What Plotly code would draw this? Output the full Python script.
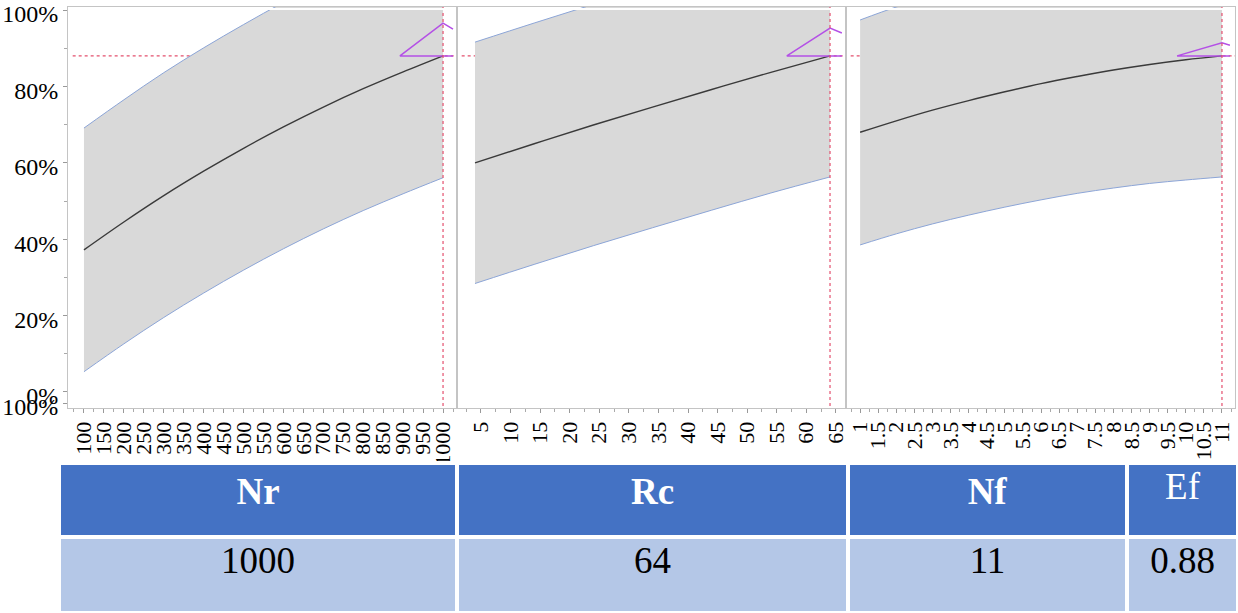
import plotly.graph_objects as go

# ---------------- data ----------------
nr_vals = [100, 200, 300, 400, 500, 600, 700, 800, 900, 1000]
nr_mid = [0.372, 0.445, 0.514, 0.578, 0.638, 0.694, 0.746, 0.794, 0.838, 0.880]
nr_upper = [0.691, 0.765, 0.836, 0.901, 0.962, 1.020, 1.073, 1.121, 1.165, 1.204]
nr_lower = [0.053, 0.126, 0.195, 0.259, 0.319, 0.375, 0.427, 0.475, 0.519, 0.561]

rc_vals = [4, 14, 24, 34, 44, 54, 64]
rc_mid = [0.600, 0.650, 0.699, 0.746, 0.792, 0.837, 0.880]
rc_upper = [0.916, 0.966, 1.015, 1.062, 1.108, 1.153, 1.196]
rc_lower = [0.284, 0.334, 0.383, 0.430, 0.476, 0.521, 0.563]

nf_vals = [1, 2, 3, 4, 5, 6, 7, 8, 9, 10, 11]
nf_mid = [0.680, 0.710, 0.738, 0.763, 0.786, 0.8075, 0.826, 0.843, 0.8576, 0.870, 0.880]
nf_upper = [0.974, 1.008, 1.036, 1.061, 1.084, 1.105, 1.124, 1.141, 1.156, 1.168, 1.178]
nf_lower = [0.385, 0.414, 0.440, 0.463, 0.484, 0.503, 0.520, 0.534, 0.546, 0.555, 0.563]

factor_names = ["Nr", "Rc", "Nf"]
current_vals = [1000, 64, 11]
ef_current = 0.88

# sensitivity indicator (purple) per panel
sens_left = [892, 56.7, 9.76]
sens_right = [1025, 66.0, 11.22]
sens_peak = [0.966, 0.953, 0.914]
sens_right_y = [0.950, 0.940, 0.908]

nr_ticks = [100, 150, 200, 250, 300, 350, 400, 450, 500, 550, 600, 650, 700, 750, 800, 850, 900, 950, 1000]
rc_ticks = [5, 10, 15, 20, 25, 30, 35, 40, 45, 50, 55, 60, 65]
nf_ticks = [1, 1.5, 2, 2.5, 3, 3.5, 4, 4.5, 5, 5.5, 6, 6.5, 7, 7.5, 8, 8.5, 9, 9.5, 10, 10.5, 11]
minor_steps = [25, 2.5, 0.25]

y_tick_vals = [-0.029, 0, 0.2, 0.4, 0.6, 0.8, 1.0]
y_tick_text = ["100%", "0%", "20%", "40%", "60%", "80%", "100%"]

table_headers = ["<b>Nr</b>", "<b>Rc</b>", "<b>Nf</b>", "Ef"]
table_values = ["1000", "64", "11", "0.88"]

# ---------------- styling ----------------
W, H = 1238, 613
FONT = "Liberation Serif"
GREY = "#d9d9d9"
BAND = "rgb(140,165,215)"
MID = "#3a3a3a"
RED = "rgb(228,80,110)"
PURPLE = "#b450e6"
AXC = "#c4c4c4"

x_ranges = [[60, 1035], [0.96, 66.7], [0.61, 11.36]]
x_domains = [[68 / W, 457 / W], [457 / W, 846 / W], [846 / W, 1235 / W]]
y_domain = [1 - 408 / H, 1 - 7 / H]
y_range = [-0.042, 1.008]

panels = [
    (nr_vals, nr_mid, nr_upper, nr_lower, nr_ticks),
    (rc_vals, rc_mid, rc_upper, rc_lower, rc_ticks),
    (nf_vals, nf_mid, nf_upper, nf_lower, nf_ticks),
]

fig = go.Figure()
shapes = []
layout = {}

for i, (xv, mid, up, lo, ticks) in enumerate(panels):
    sfx = "" if i == 0 else str(i + 1)
    xa, ya = "x" + sfx, "y" + sfx
    fig.add_trace(go.Scatter(x=xv, y=lo, mode="lines", xaxis=xa, yaxis=ya,
                             line=dict(color=BAND, width=1, shape="spline"),
                             hoverinfo="skip", showlegend=False))
    fig.add_trace(go.Scatter(x=xv, y=up, mode="lines", xaxis=xa, yaxis=ya,
                             fill="tonexty", fillcolor=GREY,
                             line=dict(color=BAND, width=1, shape="spline"),
                             hoverinfo="skip", showlegend=False))
    fig.add_trace(go.Scatter(x=xv, y=mid, mode="lines", xaxis=xa, yaxis=ya,
                             line=dict(color=MID, width=1.4, shape="spline"),
                             showlegend=False, name=factor_names[i]))
    # sensitivity indicator
    fig.add_trace(go.Scatter(
        x=[sens_right[i], sens_left[i], current_vals[i], sens_right[i]],
        y=[ef_current, ef_current, sens_peak[i], sens_right_y[i]],
        mode="lines", xaxis=xa, yaxis=ya,
        line=dict(color=PURPLE, width=1.5), hoverinfo="skip", showlegend=False))

    # red reference lines
    shapes.append(dict(type="line", xref=xa, yref=ya + " domain", x0=current_vals[i], x1=current_vals[i],
                       y0=0.005, y1=1, line=dict(color=RED, width=1.2, dash="dot"), layer="above"))
    shapes.append(dict(type="line", xref=xa + " domain", yref=ya, x0=0.012, x1=1,
                       y0=ef_current, y1=ef_current, line=dict(color=RED, width=1.2, dash="dot"),
                       layer="below"))

    layout["xaxis" + sfx] = dict(
        domain=x_domains[i], range=x_ranges[i], anchor=ya, automargin=False,
        tickmode="array", tickvals=ticks, ticktext=[str(t) for t in ticks],
        tickangle=-90, ticks="outside", ticklen=4, tickcolor="#999",
        ticklabeloverflow="allow",
        showline=True, linecolor=AXC, mirror=True, showgrid=False, zeroline=False,
        tickfont=dict(family=FONT, size=22, color="black"),
        minor=dict(tickmode="linear", tick0=0, dtick=minor_steps[i], ticks="outside",
                   ticklen=3, tickcolor="#aaa"),
    )
    ydict = dict(domain=y_domain, range=y_range, anchor=xa, automargin=False,
                 showline=True, linecolor=AXC, mirror=True, showgrid=False, zeroline=False)
    if i == 0:
        ydict.update(tickmode="array", tickvals=y_tick_vals, ticktext=y_tick_text,
                     ticks="outside", ticklen=4, tickcolor="#999",
                     ticklabeloverflow="allow", ticklabelshift=4,
                     tickfont=dict(family=FONT, size=24, color="black"),
                     minor=dict(tickmode="linear", tick0=0, dtick=0.1, ticks="outside",
                                ticklen=3, tickcolor="#aaa"))
    else:
        ydict.update(showticklabels=False, ticks="")
    layout["yaxis" + sfx] = ydict

# white strip above 100% (the band is clipped at 100%)
for i in range(3):
    sfx = "" if i == 0 else str(i + 1)
    shapes.append(dict(type="rect", xref="x" + sfx + " domain", yref="y" + sfx,
                       x0=0.004, x1=0.996, y0=1.0, y1=1.0055,
                       fillcolor="white", line=dict(width=0), layer="above"))

fig.add_trace(go.Table(
    domain=dict(x=[59 / W, 1.0], y=[0, 1 - 463 / H]),
    columnwidth=[398, 391, 279, 111],
    header=dict(values=table_headers, fill_color="#4472C4", align="center",
                line=dict(color="white", width=4), height=74,
                font=dict(family=FONT, size=37, color="white")),
    cells=dict(values=[[v] for v in table_values], fill_color="#B4C7E7", align="center",
               line=dict(color="white", width=4), height=76,
               font=dict(family=FONT, size=37, color="black")),
))

fig.update_layout(
    template="none",
    width=W, height=H, margin=dict(l=0, r=0, t=0, b=0, autoexpand=False),
    paper_bgcolor="white", plot_bgcolor="white",
    shapes=shapes, showlegend=False, **layout,
)

fig.write_html("out.html")
